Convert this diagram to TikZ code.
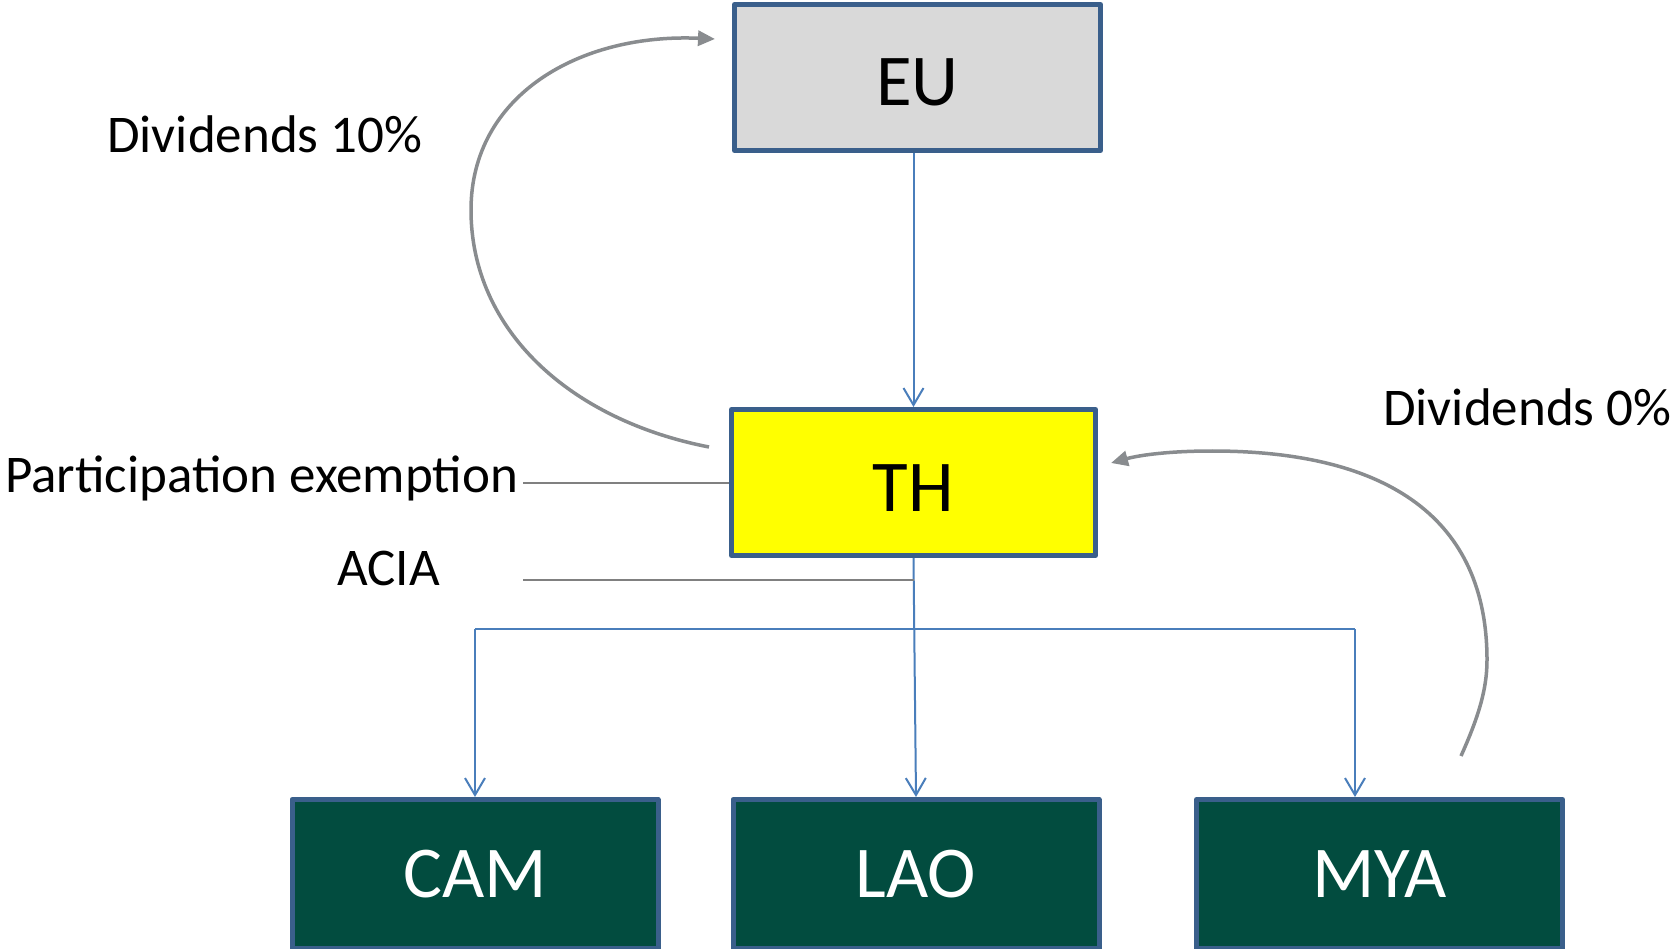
\documentclass[tikz,border=0pt]{standalone}
\usepackage{fontspec}
\setmainfont{Carlito}
\usetikzlibrary{arrows.meta}
\definecolor{boxborder}{HTML}{3A5F8B}
\definecolor{euFill}{HTML}{D9D9D9}
\definecolor{thFill}{HTML}{FFFF00}
\definecolor{subFill}{HTML}{024C3F}
\definecolor{flowBlue}{HTML}{4A7EBB}
\definecolor{curveGray}{HTML}{898C8F}
\definecolor{lineGray}{HTML}{808080}
\tikzset{
  entity/.style={draw=boxborder, line width=5pt, line join=round, rectangle,
    minimum width=366pt, minimum height=146pt, inner sep=0pt,
    font=\fontsize{73}{80}\selectfont},
  lowtext/.style={text height=57pt, text depth=0pt},
  sub/.style={entity, fill=subFill, text=white, minimum height=149pt},
  flow/.style={draw=flowBlue, line width=2pt, -{Straight Barb[length=17pt,width=20pt]}},
  flowline/.style={draw=flowBlue, line width=2pt},
  divarrow/.style={draw=curveGray, line width=3.5pt, -{Triangle[length=17pt,width=15pt]}},
  noteline/.style={draw=lineGray, line width=2pt},
  lbl/.style={inner sep=0pt, anchor=base west, font=\fontsize{53}{60}\selectfont}
}
\begin{document}
\begin{tikzpicture}[x=1pt,y=-1pt]
\useasboundingbox[fill=white] (0,0) rectangle (1671,949);

% boxes
\node[entity, fill=euFill, lowtext] (EU) at (917.5,77.5) {EU};
\node[entity, fill=thFill, lowtext, minimum width=364pt] (TH) at (913.5,482.5) {TH};
\node[sub] (CAM) at (475,874) {CAM};
\node[sub] (LAO) at (916,874) {LAO};
\node[sub] (MYA) at (1379.5,874) {MYA};

% labels
\node[lbl] (d10) at (107,153) {Dividends 10\%};
\node[lbl] (pe) at (5,492) {Participation exemption};
\node[lbl] (acia) at (337,585) {ACIA};
\node[lbl] (d0) at (1383,425) {Dividends 0\%};

% coordinates
\coordinate (euout) at (EU.south -| TH.north);
\coordinate (hl) at (475,629);
\coordinate (hr) at (1355,629);
\coordinate (peL) at (523,483);
\coordinate (aciaL) at (523,580);
\coordinate (aciaR) at (913.5,580);

% ownership flows
\draw[flow] (euout) -- (TH.north);
\draw[flow] (TH.south) -- (LAO.north);
\draw[flowline] (hl) -- (hr);
\draw[flow] (hl) -- (hl |- CAM.north);
\draw[flow] (hr) -- (hr |- MYA.north);

% note lines
\draw[noteline] (peL) -- (peL -| TH.west);
\draw[noteline] (aciaL) -- (aciaR);

% dividend curves
\coordinate (c1s) at (709,447);
\coordinate (c1e) at (715,39);
\draw[divarrow] (c1s) .. controls (570,420) and (471,330) .. (471,210)
  .. controls (471,95) and (580,33) .. (c1e);
\coordinate (c2s) at (1461,756);
\coordinate (c2e) at (1111,463);
\draw[divarrow] (c2s) .. controls (1478,718) and (1487,690) .. (1487,660)
  .. controls (1487,520) and (1390,451) .. (1212,451)
  .. controls (1170,451) and (1140,455) .. (c2e);
\end{tikzpicture}
\end{document}
